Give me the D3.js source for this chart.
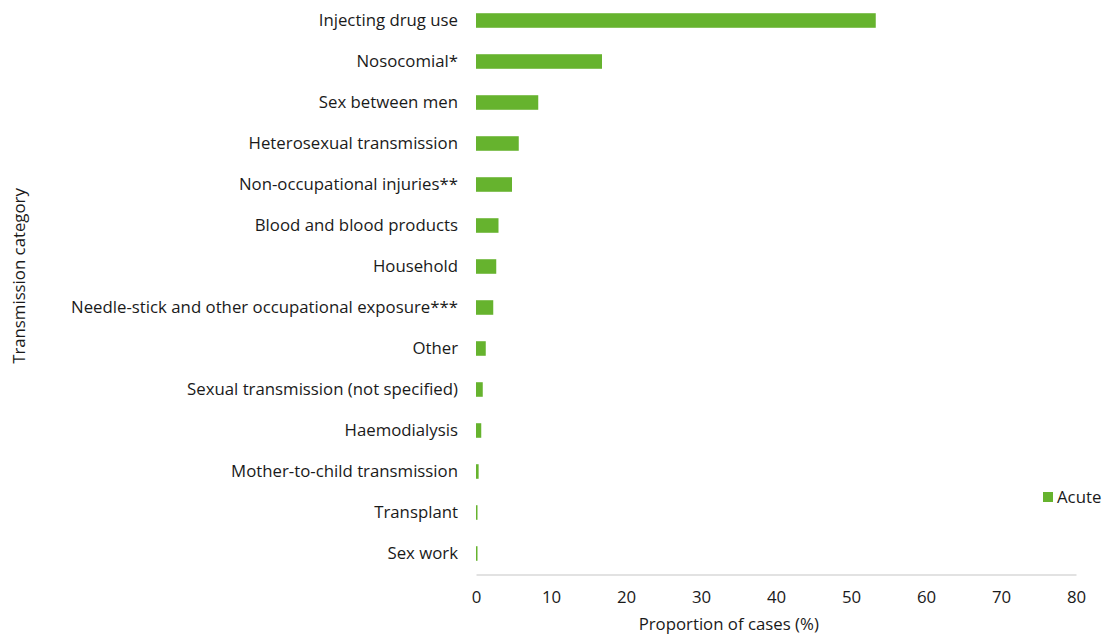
<!DOCTYPE html>
<html lang="en">
<head>
<meta charset="utf-8">
<title>Transmission category</title>
<style>
    body { margin: 0; background: #fff; }
    text { font-family: "Open Sans", "Noto Sans", sans-serif; fill: #1a1a1a; }
</style>
</head>
<body>
<svg width="1103" height="636"></svg>
<script src="https://d3js.org/d3.v7.min.js"></script>
<script>
// categories, top to bottom
var categories = [
    "Injecting drug use",
    "Nosocomial*",
    "Sex between men",
    "Heterosexual transmission",
    "Non-occupational injuries**",
    "Blood and blood products",
    "Household",
    "Needle-stick and other occupational exposure***",
    "Other",
    "Sexual transmission (not specified)",
    "Haemodialysis",
    "Mother-to-child transmission",
    "Transplant",
    "Sex work"
];
// proportion of acute cases (%)
var acuteValues = [53.3, 16.8, 8.3, 5.7, 4.8, 3.0, 2.7, 2.3, 1.3, 0.9, 0.7, 0.35, 0.2, 0.2];
var xTicks = [0, 10, 20, 30, 40, 50, 60, 70, 80];
var seriesName = "Acute";

var svg = d3.select("svg");
var green = "#66b32e";
var fs = "16.8px";

var x = d3.scaleLinear().domain([0, 80]).range([476, 1076]);
var y = d3.scaleBand().domain(categories).range([0, 574]).paddingInner(0.645).paddingOuter(0.3225);

// bars
svg.append("g")
    .selectAll("rect")
    .data(categories)
    .enter().append("rect")
    .attr("x", x(0))
    .attr("y", function (d) { return y(d); })
    .attr("width", function (d, i) { return x(acuteValues[i]) - x(0); })
    .attr("height", y.bandwidth())
    .attr("fill", green);

// category labels
svg.append("g")
    .selectAll("text")
    .data(categories)
    .enter().append("text")
    .attr("x", 458)
    .attr("y", function (d) { return y(d) + y.bandwidth() / 2; })
    .attr("dy", "0.35em")
    .attr("text-anchor", "end")
    .style("font-size", fs)
    .text(function (d) { return d; });

// x axis
var xAxis = svg.append("g")
    .attr("transform", "translate(0,574.5)")
    .call(d3.axisBottom(x).tickValues(xTicks).tickSize(0).tickPadding(17));
xAxis.select(".domain").attr("stroke", "#d9d9d9").attr("stroke-width", 1.5);
xAxis.selectAll("text")
    .style("font-size", fs)
    .style("font-family", "'Open Sans', sans-serif")
    .attr("fill", "#1a1a1a");

// axis titles
svg.append("text")
    .attr("x", x(33.7))
    .attr("y", 630)
    .attr("text-anchor", "middle")
    .style("font-size", fs)
    .text("Proportion of cases (%)");

svg.append("text")
    .attr("transform", "translate(25,276) rotate(-90)")
    .attr("text-anchor", "middle")
    .style("font-size", fs)
    .text("Transmission category");

// legend
var legend = svg.append("g").attr("transform", "translate(1043,492)");
legend.append("rect").attr("width", 10).attr("height", 10).attr("fill", green);
legend.append("text")
    .attr("x", 14)
    .attr("y", 5)
    .attr("dy", "0.35em")
    .style("font-size", fs)
    .text(seriesName);
</script>
</body>
</html>
